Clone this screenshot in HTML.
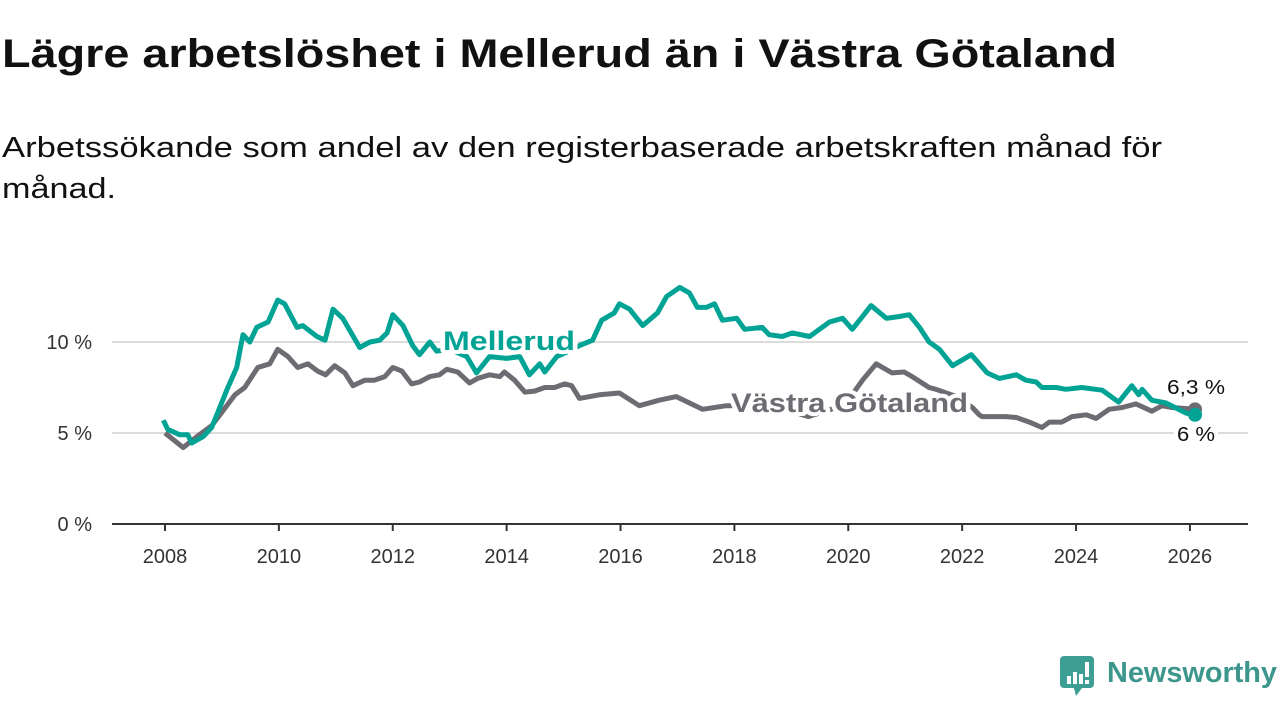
<!DOCTYPE html>
<html><head><meta charset="utf-8"><style>
html,body{margin:0;padding:0;background:#fff;}
svg{display:block;font-family:"Liberation Sans",sans-serif;}
</style></head><body>
<svg id="chart" width="1280" height="720" viewBox="0 0 1280 720">
<text x="2" y="67" font-size="40" font-weight="bold" fill="#111" textLength="1115" lengthAdjust="spacingAndGlyphs">Lägre arbetslöshet i Mellerud än i Västra Götaland</text>
<text x="2" y="157" font-size="29" fill="#111" textLength="1160" lengthAdjust="spacingAndGlyphs">Arbetssökande som andel av den registerbaserade arbetskraften månad för</text>
<text x="2" y="198" font-size="29" fill="#111" textLength="114" lengthAdjust="spacingAndGlyphs">månad.</text>
<g id="grid"></g>
<g id="yaxis"></g>
<g id="xaxis"></g>
<g id="series"></g>
<g id="labels"></g>
<g>
<path d="M1064 656 h26 a4 4 0 0 1 4 4 v24 a4 4 0 0 1 -4 4 h-8 l-6 8 l-2 -8 h-10 a4 4 0 0 1 -4 -4 v-24 a4 4 0 0 1 4 -4z" fill="#3d9e94"/>
<rect x="1067" y="676" width="4" height="8" fill="#fff"/>
<rect x="1073" y="672" width="4" height="12" fill="#fff"/>
<rect x="1079" y="674" width="4" height="10" fill="#fff"/>
<rect x="1085" y="662" width="4" height="15" fill="#fff"/>
<rect x="1085" y="680" width="4" height="4" fill="#fff"/>
<text x="1107" y="682" font-size="29" font-weight="bold" fill="#3d968c" textLength="170" lengthAdjust="spacingAndGlyphs">Newsworthy</text>
</g>
</svg>
<script>
const yTicks = [0, 5, 10];
const yTickLabels = ["0 %", "5 %", "10 %"];
const xTicks = [2008, 2010, 2012, 2014, 2016, 2018, 2020, 2022, 2024, 2026];
const mellerudDates = [2007.97,2008.05,2008.26,2008.4,2008.47,2008.67,2008.82,2009.09,2009.26,2009.37,2009.49,2009.61,2009.81,2009.98,2010.1,2010.32,2010.42,2010.67,2010.81,2010.95,2011.12,2011.42,2011.6,2011.77,2011.9,2012.0,2012.18,2012.35,2012.47,2012.65,2012.77,2013.0,2013.3,2013.47,2013.7,2014.0,2014.23,2014.4,2014.58,2014.67,2014.88,2015.1,2015.28,2015.51,2015.67,2015.89,2015.98,2016.16,2016.39,2016.65,2016.81,2017.04,2017.21,2017.35,2017.51,2017.65,2017.79,2018.04,2018.18,2018.49,2018.61,2018.84,2019.02,2019.32,2019.67,2019.9,2020.07,2020.4,2020.67,2020.9,2021.07,2021.25,2021.42,2021.6,2021.83,2022.16,2022.44,2022.65,2022.95,2023.12,2023.3,2023.4,2023.65,2023.82,2024.1,2024.46,2024.75,2024.98,2025.1,2025.16,2025.33,2025.58,2025.93,2026.09];
const mellerudValues = [5.7,5.2,4.9,4.9,4.45,4.8,5.3,7.4,8.6,10.4,10.0,10.8,11.1,12.3,12.1,10.8,10.9,10.3,10.1,11.8,11.3,9.7,10.0,10.1,10.5,11.5,10.9,9.8,9.3,10.0,9.5,9.6,9.2,8.3,9.2,9.1,9.2,8.2,8.8,8.35,9.2,9.5,9.8,10.1,11.2,11.6,12.1,11.8,10.9,11.6,12.5,13.0,12.7,11.9,11.9,12.1,11.2,11.3,10.7,10.8,10.4,10.3,10.5,10.3,11.1,11.3,10.7,12.0,11.3,11.4,11.5,10.8,10.0,9.6,8.7,9.3,8.3,8.0,8.2,7.9,7.8,7.5,7.5,7.4,7.5,7.35,6.7,7.6,7.1,7.4,6.8,6.65,6.1,6.0];
const vgDates = [2008.0,2008.32,2008.56,2008.82,2009.23,2009.4,2009.63,2009.84,2009.98,2010.16,2010.33,2010.51,2010.68,2010.82,2010.98,2011.16,2011.3,2011.51,2011.68,2011.86,2012.0,2012.16,2012.33,2012.47,2012.65,2012.82,2012.95,2013.14,2013.35,2013.49,2013.7,2013.88,2013.96,2014.14,2014.32,2014.49,2014.67,2014.84,2015.02,2015.14,2015.28,2015.63,2015.98,2016.33,2016.68,2016.98,2017.44,2017.86,2018.5,2019.0,2019.3,2019.7,2020.0,2020.25,2020.49,2020.77,2020.98,2021.12,2021.42,2021.54,2021.9,2022.18,2022.3,2022.35,2022.77,2022.95,2023.18,2023.4,2023.53,2023.75,2023.93,2024.18,2024.35,2024.58,2024.81,2025.05,2025.33,2025.51,2025.68,2026.09];
const vgValues = [5.0,4.2,4.8,5.4,7.1,7.5,8.6,8.8,9.6,9.2,8.6,8.8,8.4,8.2,8.7,8.3,7.6,7.9,7.9,8.1,8.6,8.4,7.7,7.8,8.1,8.2,8.5,8.35,7.75,8.0,8.2,8.1,8.35,7.9,7.25,7.3,7.5,7.5,7.7,7.6,6.9,7.1,7.2,6.5,6.8,7.0,6.3,6.5,6.5,6.2,5.9,6.3,6.8,7.9,8.8,8.3,8.35,8.1,7.5,7.4,7.0,6.4,6.0,5.9,5.9,5.85,5.6,5.3,5.6,5.6,5.9,6.0,5.8,6.3,6.4,6.6,6.2,6.5,6.4,6.3];

const NS='http://www.w3.org/2000/svg';
const X0=112,X1=1248,Y0=524;
function xs(d){return 165+(d-2008)*56.94;}
function ys(v){return Y0-v*18.2;}
function mk(tag,attrs,parent){const e=document.createElementNS(NS,tag);for(const k in attrs)e.setAttribute(k,attrs[k]);parent.appendChild(e);return e;}
const grid=document.getElementById('grid'),yax=document.getElementById('yaxis'),xax=document.getElementById('xaxis'),ser=document.getElementById('series'),lab=document.getElementById('labels');
yTicks.forEach((t,i)=>{
  if(t>0){const g=mk('line',{x1:X0,x2:X1,y1:ys(t),y2:ys(t),stroke:'#dcdcdc','stroke-width':2},grid);
  
  }
  const tx=mk('text',{x:92,y:ys(t)+7,'font-size':20,'text-anchor':'end',fill:'#333'},yax);
  tx.textContent=yTickLabels[i];
  
  
});
const base=mk('line',{x1:X0,x2:X1,y1:Y0,y2:Y0,stroke:'#333','stroke-width':2},xax);


xTicks.forEach(t=>{
  const tk=mk('line',{x1:xs(t),x2:xs(t),y1:Y0,y2:Y0+7,stroke:'#333','stroke-width':2},xax);
  
  
  const tx=mk('text',{x:xs(t),y:563,'font-size':20,'text-anchor':'middle',fill:'#333'},xax);
  tx.textContent=t;
  
  
});
function path(ds,vs){return ds.map((d,i)=>(i?'L':'M')+xs(d).toFixed(1)+' '+ys(vs[i]).toFixed(1)).join(' ');}
const gl=mk('path',{d:path(vgDates,vgValues),fill:'none',stroke:'#6e6c72','stroke-width':5,'stroke-linejoin':'round'},ser);


const ml=mk('path',{d:path(mellerudDates,mellerudValues),fill:'none',stroke:'#00a394','stroke-width':5,'stroke-linejoin':'round'},ser);


const gd=mk('circle',{cx:xs(vgDates[vgDates.length-1]),cy:ys(vgValues[vgValues.length-1]),r:7,fill:'#6e6c72'},ser);


const md=mk('circle',{cx:xs(mellerudDates[mellerudDates.length-1]),cy:ys(mellerudValues[mellerudValues.length-1]),r:7,fill:'#00a394'},ser);


function label(txt,x,y,col,size,bold,name,len){
  const t=mk('text',{x:x,y:y,'font-size':size,'font-weight':bold?'bold':'normal',fill:col,stroke:'#fff','stroke-width':8,'paint-order':'stroke','stroke-linejoin':'round'},lab);
  if(len){t.setAttribute('textLength',len);t.setAttribute('lengthAdjust','spacingAndGlyphs');}
  t.textContent=txt;
  
  
}
label('Mellerud',443,350,'#00a394',27,true,'mellerud-label',132);
label('Västra Götaland',731,412,'#6e6c72',27,true,'vastra-gotaland-label',237);
label('6,3 %',1167,394,'#111',20,false,'vastra-gotaland-end-value',58);
label('6 %',1177,441,'#111',20,false,'mellerud-end-value',38);
</script>
</body></html>
